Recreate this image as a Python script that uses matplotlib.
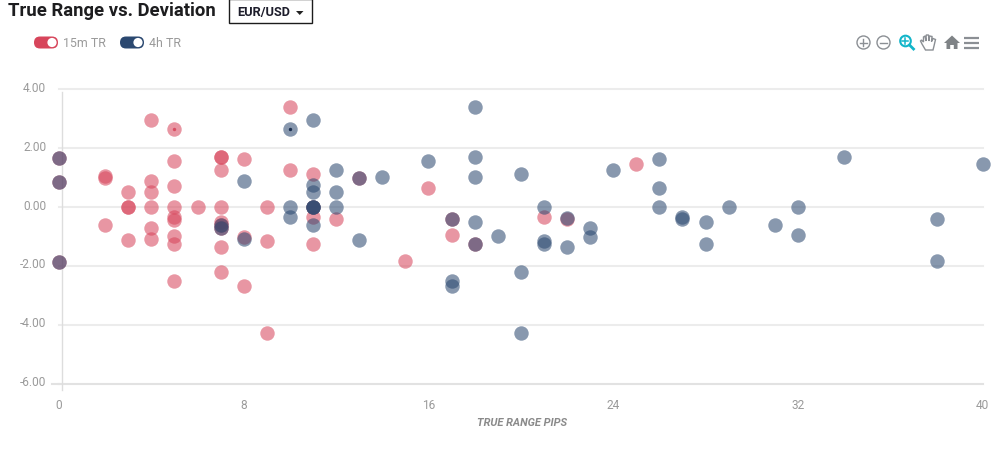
import matplotlib
matplotlib.use("Agg")
import matplotlib.pyplot as plt
from matplotlib.patches import Circle, FancyBboxPatch, Rectangle, Polygon
from matplotlib.transforms import ScaledTranslation

W, H = 998, 450

red_x = [0,0,0, 2,2,2, 3,3,3,3, 4,4,4,4,4,4, 5,5,5,5,5,5,5,5,5, 6,
         7,7,7,7,7,7,7,7,7, 8,8,8, 9,9,9, 10,10, 11,11,11,11, 12, 13, 15, 16,
         17,17, 18, 21, 22, 25]
red_y = [1.67,0.85,-1.87, 1.05,1.0,-0.62, 0.5,0,0,-1.12,
         2.95,0.9,0.5,0,-0.7,-1.08,
         2.65,1.58,0.73,0,-0.35,-0.45,-0.97,-1.25,-2.52, 0,
         1.72,1.7,1.25,0,-0.5,-0.6,-0.7,-1.35,-2.2,
         1.65,-1.03,-2.68, 0,-1.15,-4.28, 3.4,1.25, 1.13,0,-0.35,-1.25, -0.4, 1.0, -1.85, 0.65,
         -0.42,-0.95, -1.25, -0.33, -0.42, 1.45]
blue_x = [0,0,0, 7,7, 8,8, 10,10,10, 11,11,11,11,11,11,11, 12,12,12, 13,13, 14, 16,
          17,17,17, 18,18,18,18,18, 19, 20,20,20, 21,21,21, 22,22, 23,23, 24,
          26,26,26, 27,27, 28,28, 29, 31, 32,32, 34, 38,38, 40]
blue_y = [1.67,0.85,-1.87, -0.6,-0.7, 0.9,-1.08, 2.65,0,-0.35,
          2.95,0.75,0.5,0,0,0,-0.62, 1.25,0.5,0, 1.0,-1.12, 1.02, 1.58,
          -0.42,-2.52,-2.68, 3.4,1.72,1.02,-0.5,-1.25, -0.97, 1.13,-2.2,-4.28,
          0,-1.15,-1.25, -0.37,-1.35, -0.7,-1.03, 1.25,
          1.65,0.65,0, -0.33,-0.42, -0.5,-1.25, 0, -0.62, 0,-0.95, 1.72, -0.42,-1.85, 1.45]
red_small_x, red_small_y = [5], [2.65]
blue_small_x, blue_small_y = [10], [2.65]
x_ticks = [0, 8, 16, 24, 32, 40]
y_ticks = [4, 2, 0, -2, -4, -6]
y_labels = ["4.00", "2.00", "0.00", "-2.00", "-4.00", "-6.00"]
title = "True Range vs. Deviation"
x_title = "TRUE RANGE PIPS"
pair = "EUR/USD"
series_names = ["15m TR", "4h TR"]

RED = "#d7455b"
BLUE = "#2b4870"
GRID = "#ececec"
TXT = "#9a9a9a"
plt.rcParams["font.family"] = ["Roboto", "DejaVu Sans"]
fig = plt.figure(figsize=(W/100, H/100), dpi=100)

# main chart
ax = fig.add_axes([59/W, 1-383.5/H, (982.7-59)/W, (383.5-89.5)/H])
ax.set_xlim(0, 40)
ax.set_ylim(-6, 4)
for s in ax.spines.values():
    s.set_visible(False)
ax.set_axisbelow(True)
ax.set_xticks(x_ticks)
ax.set_yticks(y_ticks)
ax.set_yticklabels(y_labels)
ax.tick_params(length=0, labelcolor=TXT, labelsize=8.6)
ax.tick_params(axis="y", pad=9.2)
ax.tick_params(axis="x", pad=11)
for lab in ax.get_yticklabels():
    lab.set_transform(lab.get_transform() + ScaledTranslation(0, 2.5/100, fig.dpi_scale_trans))
for y in y_ticks:
    ax.axhline(y, color="#e2e2e2" if y == -6 else GRID, lw=1.5, zorder=1, clip_on=False)
ax.plot([0.14, 0.14], [4 - 3/29.4, -6 - 6/29.4], color="#dddddd", lw=1, clip_on=False, zorder=1)
ax.plot([-0.32, 0], [-6, -6], color="#e2e2e2", lw=1.5, clip_on=False, zorder=1)

ax.scatter(red_x, red_y, s=108, color=RED, alpha=0.56, linewidths=0, clip_on=False, zorder=3)
ax.scatter(blue_x, blue_y, s=108, color=BLUE, alpha=0.56, linewidths=0, clip_on=False, zorder=4)
ax.scatter(red_small_x, red_small_y, s=6, color=RED, alpha=0.9, linewidths=0, zorder=5)
ax.scatter(blue_small_x, blue_small_y, s=6, color="#14284a", alpha=0.95, linewidths=0, zorder=5)

# page furniture in pixel coordinates
ui = fig.add_axes([0, 0, 1, 1], facecolor="none")
ui.set_xlim(0, W)
ui.set_ylim(H, 0)
ui.axis("off")

ui.text(8, 11, title, fontsize=13.3, fontweight="bold", color="#1d1d1f", va="center", ha="left")
ui.add_patch(Rectangle((229.5, -1), 83, 24, fc="white", ec="#1c1c1c", lw=1, clip_on=False))
ui.text(237, 12.5, pair, fontsize=9.2, fontweight="bold", color="#1d1d2b", va="center", ha="left")
ui.add_patch(Polygon([[296, 11], [303.5, 11], [299.75, 15]], fc="#222222", ec="none"))

def toggle(x, color, label):
    ui.add_patch(FancyBboxPatch((x+6, 36.5+6), 12, 0, boxstyle="round,pad=6,rounding_size=6",
                                fc=color, ec="none"))
    ui.add_patch(Circle((x+18, 42.5), 4.6, fc="white", ec="none"))
    ui.text(x+29, 43.5, label, fontsize=8.9, color=TXT, va="center", ha="left")

toggle(34, RED, series_names[0])
toggle(120, BLUE, series_names[1])

ui.text(522.5, 422.5, x_title, fontsize=7.9, fontweight="bold", fontstyle="italic",
        color="#8a8a8a", ha="center", va="center")

ICON = "#8b8f94"
TEAL = "#12b5c9"
for cx, plus in [(863.5, True), (883.5, False)]:
    ui.add_patch(Circle((cx, 42.5), 6.5, fc="none", ec=ICON, lw=1.0))
    ui.plot([cx-3.5, cx+3.5], [42.5, 42.5], color=ICON, lw=1.0)
    if plus:
        ui.plot([cx, cx], [39, 46], color=ICON, lw=1.0)
ui.add_patch(Circle((905.5, 41), 5.3, fc="none", ec=TEAL, lw=1.5))
ui.plot([909.5, 913.5], [45, 49], color=TEAL, lw=2)
ui.plot([902.5, 908.5], [41, 41], color=TEAL, lw=1.1)
ui.plot([905.5, 905.5], [38, 44], color=TEAL, lw=1.1)
# hand
hand = [[922, 44], [920.5, 41], [921.5, 40], [923.5, 42], [923.5, 37], [925, 36], [926, 41],
        [926.2, 35], [928.6, 35], [928.8, 41], [929.7, 36], [932, 36.5], [931.5, 41.5], [933, 38.5],
        [935.5, 39.5], [934, 46], [933, 50], [925.5, 50]]
ui.add_patch(Polygon(hand, closed=True, fc="white", ec=ICON, lw=1))
# home
ui.add_patch(Polygon([[944, 43], [952, 35.5], [960, 43], [957.5, 43], [957.5, 49], [953.8, 49],
                      [953.8, 45], [950.2, 45], [950.2, 49], [946.5, 49], [946.5, 43]],
                     closed=True, fc="#7f8386", ec="none"))
for y in (37.5, 42.5, 47.5):
    ui.plot([964.5, 979.5], [y, y], color=ICON, lw=1.6, solid_capstyle="butt")

fig.savefig("out.png", dpi=100, facecolor="white")
